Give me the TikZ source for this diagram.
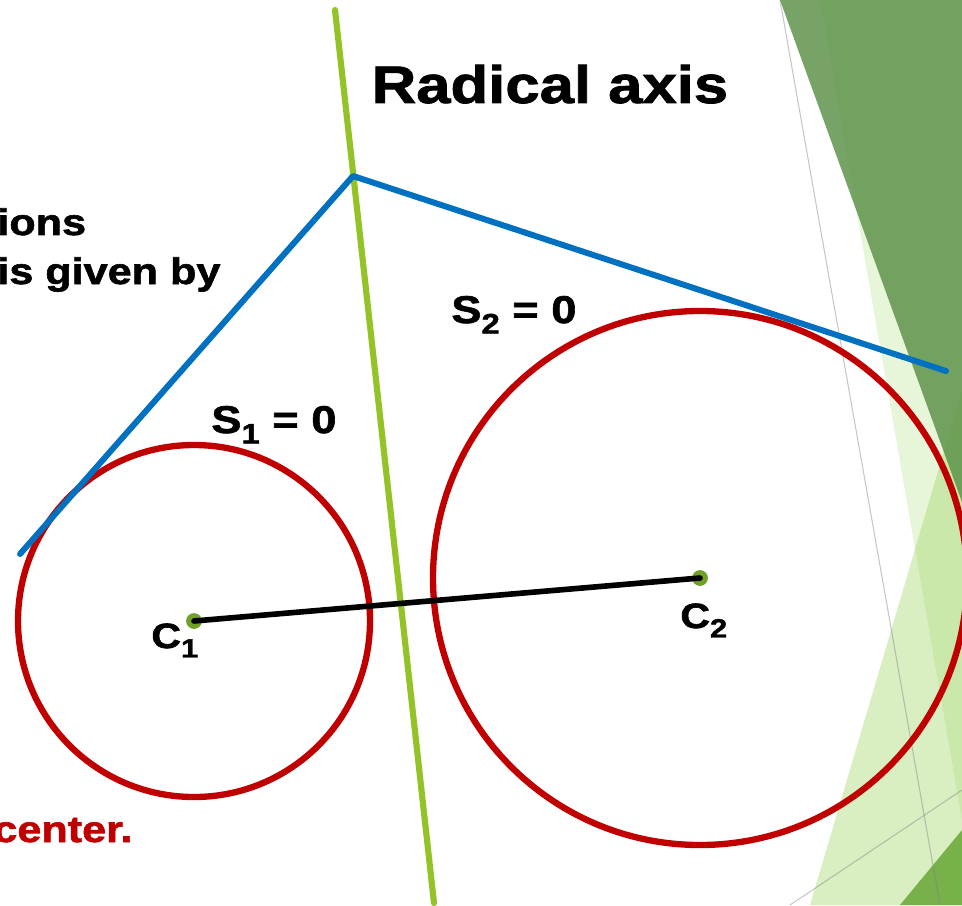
\documentclass[tikz,border=0pt]{standalone}
\usepackage{fontspec}
\setmainfont{Liberation Sans}[FakeStretch=1.17, BoldFeatures={FakeBold=1.6}]

\definecolor{circred}{RGB}{192,0,0}
\definecolor{tanblue}{RGB}{0,112,192}
\definecolor{axisgreen}{RGB}{146,196,40}
\definecolor{dotgreen}{RGB}{112,160,40}
\definecolor{facetdark}{RGB}{95,148,75}
\definecolor{facetlime}{RGB}{146,208,80}
\definecolor{facetbottom}{RGB}{120,176,74}

\newcommand{\lowsub}[2][15]{\raisebox{-0.27em}{\fontsize{#1}{#1}\selectfont #2}}

\begin{document}
\begin{tikzpicture}[
    x=0.02cm, y=-0.02cm,
    circ/.style={draw=circred, line width=3.6pt},
    tangent/.style={draw=tanblue, line width=3.4pt, line cap=round, line join=round},
    radaxis/.style={draw=axisgreen, line width=3.5pt, line cap=round},
    joinline/.style={draw=black, line width=3.2pt, line cap=round},
    centre/.style={circle, fill=dotgreen, inner sep=0pt, minimum size=9pt},
    title/.style={font=\fontsize{30}{36}\selectfont\bfseries, inner sep=0pt, anchor=base},
    body/.style={font=\fontsize{21}{25}\selectfont\bfseries, inner sep=0pt, anchor=base west},
    eqn/.style={font=\fontsize{22}{26}\selectfont\bfseries, inner sep=0pt, anchor=base west},
    ctr/.style={font=\fontsize{20}{24}\selectfont\bfseries, inner sep=0pt, anchor=base west},
    guide/.style={draw=gray, line width=0.6pt, draw opacity=0.45}
  ]

    \clip (0,0) rectangle (962,905);

    % Facets at the right edge
    \fill[facetlime, fill opacity=0.22] (820,0) -- (962,0) -- (962,820) -- cycle;
    \fill[facetlime, fill opacity=0.35] (962,390) -- (962,905) -- (810,905) -- cycle;
    \fill[facetdark, fill opacity=0.85] (780,0) -- (962,0) -- (962,502) -- cycle;
    \fill[facetbottom] (900,905) -- (962,830) -- (962,905) -- cycle;
    \draw[guide] (780,0) -- (940,905);
    \draw[guide] (790,905) -- (962,790);

    % Centres and points
    \coordinate (C1) at (194,621);
    \coordinate (C2) at (700,578);
    \coordinate (P) at (353,176);
    \coordinate (T1) at (20,554);
    \coordinate (T2) at (946,371);
    \coordinate (axtop) at (335,10);
    \coordinate (axbot) at (434,903);

    % Circles
    \draw[circ] (C1) circle[radius=176];
    \draw[circ] (C2) circle[radius=267];

    % Radical axis and tangents
    \draw[radaxis] (axtop) -- (axbot);
    \draw[tangent] (T1) -- (P) -- (T2);

    % Line of centres
    \node[centre] (dot1) at (C1) {};
    \node[centre] (dot2) at (C2) {};
    \draw[joinline] (dot1.center) -- (dot2.center);

    % Labels
    \node[title] (title) at (550,103) {Radical axis};
    \node[body] (intro1) at (-3,235) {ions};
    \node[body] (intro2) at (-3,284) {is given by};
    \node[body, text=circred] (note) at (-7,842) {center.};
    \node[eqn] (s1) at (211,433) {S\lowsub[16]{1} = 0};
    \node[eqn] (s2) at (451,323) {S\lowsub[16]{2} = 0};
    \node[ctr] (c1) at (151,648) {C\lowsub{1}};
    \node[ctr] (c2) at (680,628) {C\lowsub{2}};

  \end{tikzpicture}
\end{document}
